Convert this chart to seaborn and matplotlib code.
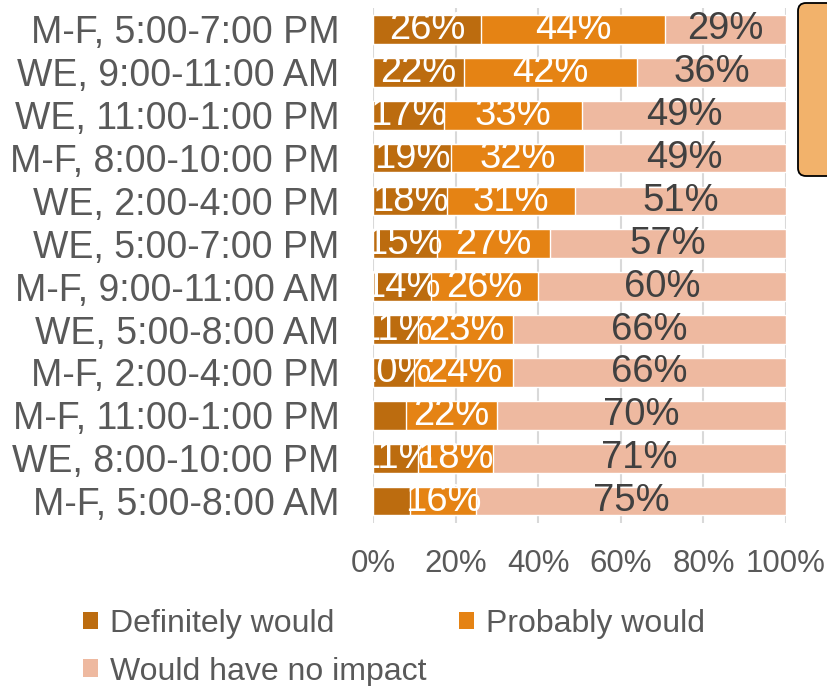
import matplotlib
matplotlib.use("Agg")
import matplotlib.pyplot as plt
from matplotlib.patches import Patch, FancyBboxPatch
import numpy as np
import pandas as pd
import seaborn as sns

# Time slots, top to bottom
slots = [
    "M-F, 5:00-7:00 PM", "WE, 9:00-11:00 AM", "WE, 11:00-1:00 PM",
    "M-F, 8:00-10:00 PM", "WE, 2:00-4:00 PM", "WE, 5:00-7:00 PM",
    "M-F, 9:00-11:00 AM", "WE, 5:00-8:00 AM", "M-F, 2:00-4:00 PM",
    "M-F, 11:00-1:00 PM", "WE, 8:00-10:00 PM", "M-F, 5:00-8:00 AM",
]
# Share of respondents (%)
definitely = [26.2, 22.0, 17.3, 19.0, 18.0, 15.4, 14.0, 11.0, 10.0, 8.0, 11.0, 9.0]
probably   = [44.4, 42.0, 33.3, 32.0, 31.0, 27.4, 26.0, 23.0, 24.0, 22.0, 18.0, 16.0]
no_impact  = [29.4, 36.0, 49.4, 49.0, 51.0, 57.2, 60.0, 66.0, 66.0, 70.0, 71.0, 75.0]
# Rows whose "Definitely would" value is left unlabelled
unlabelled_definitely = ["M-F, 11:00-1:00 PM", "M-F, 5:00-8:00 AM"]

series_names = ["Definitely would", "Probably would", "Would have no impact"]
colors = ["#BC6C0F", "#E58314", "#EEB9A0"]
label_colors = ["white", "white", "#404040"]
tick_color = "#595959"

df = pd.DataFrame({"slot": slots, "Definitely would": definitely,
                   "Probably would": probably, "Would have no impact": no_impact})
cum = df[series_names].cumsum(axis=1)
starts = cum.shift(1, axis=1).fillna(0)

sns.set_theme(style="white")
plt.rcParams["font.family"] = ["Liberation Sans", "DejaVu Sans"]

fig = plt.figure(figsize=(8.28, 6.86), dpi=100)
ax = fig.add_axes([373 / 828, 1 - 522.5 / 686, 413 / 828, 514.5 / 686])

# Stacked bars: draw cumulative totals back to front
for name, col in reversed(list(zip(series_names, colors))):
    sns.barplot(x=cum[name], y=df["slot"], orient="h", color=col,
                width=0.67, saturation=1, ax=ax, zorder=2)

# Segment labels, clipped to the plot area
for i, slot in enumerate(slots):
    for name, lc in zip(series_names, label_colors):
        if name == "Definitely would" and slot in unlabelled_definitely:
            continue
        v = df.loc[i, name]
        x = starts.loc[i, name] + v / 2
        ax.text(x, i, f"{v:.0f}%", ha="center", va="center", color=lc,
                fontsize=27.5, clip_on=True, zorder=3)

ax.set_xlim(0, 100)
ax.set_ylim(len(slots) - 0.5, -0.5)
ax.set_xticks(np.arange(0, 101, 20))
ax.set_xticklabels([f"{t}%" for t in range(0, 101, 20)])
ax.xaxis.grid(True, color="#D9D9D9", lw=1.5, zorder=0)
ax.yaxis.grid(False)
for s in ax.spines.values():
    s.set_visible(False)
ax.set_xlabel("")
ax.set_ylabel("")
ax.tick_params(axis="y", length=0, pad=24, labelsize=27, labelcolor=tick_color)
ax.tick_params(axis="x", length=0, pad=19, labelsize=22.5, labelcolor=tick_color)

# Legend laid out row by row
handles = [Patch(facecolor=c, edgecolor="none") for c in colors]
order = [0, 2, 1]
leg = fig.legend([handles[k] for k in order], [series_names[k] for k in order],
                 ncol=2, loc="upper left", bbox_to_anchor=(83 / 828, 1 - 609 / 686),
                 frameon=False, handlelength=0.47, handleheight=0.47,
                 handletextpad=0.38, columnspacing=1.0, labelspacing=0.55,
                 borderpad=0, borderaxespad=0,
                 prop={"size": 23})
for t in leg.get_texts():
    t.set_color(tick_color)

# Callout shape at the right edge
fig.add_artist(FancyBboxPatch((7.98, 5.10), 0.8, 1.73,
                              boxstyle="round,pad=0,rounding_size=0.08",
                              transform=fig.dpi_scale_trans,
                              facecolor="#F2B26B", edgecolor="black", lw=1.3))

fig.savefig("out.png", dpi=100)
